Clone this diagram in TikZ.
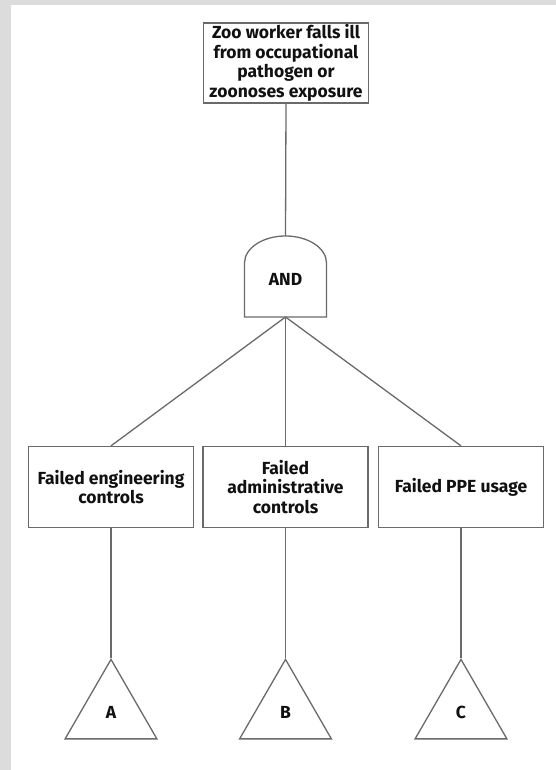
\documentclass[tikz,border=0pt]{standalone}
\usepackage{fontspec}
\setmainfont{Fira Sans}
\usetikzlibrary{shapes.geometric}
\definecolor{linegray}{HTML}{6A6A6A}
\definecolor{framegray}{HTML}{DCDCDC}
\definecolor{ink}{HTML}{111111}
\begin{document}
\begin{tikzpicture}[x=1pt,y=1pt,
  lbl/.style={font=\fontsize{17.5}{19.5}\selectfont\bfseries, text=ink},
  box/.style={lbl, draw=linegray, line width=1.3pt, fill=white,
    minimum width=165pt, minimum height=81pt, align=center, inner sep=1pt},
  tri/.style={lbl, draw=linegray, line width=1.3pt, fill=white,
    regular polygon, regular polygon sides=3, minimum size=106pt, inner sep=0pt},
  edge/.style={draw=linegray, line width=1.3pt}]
% page frame
\fill[framegray] (0,0) rectangle (556,770);
\fill[white] (11,0) rectangle (556,765);
\useasboundingbox (0,0) rectangle (556,770);

% top event
\node[box, minimum height=80pt] (top) at (286,707)
  {Zoo worker falls ill\\from occupational\\pathogen or\\zoonoses exposure};

% AND gate
\draw[edge, fill=white] (244.5,453) -- (244.5,507)
  arc[start angle=180, end angle=0, x radius=41pt, y radius=27pt]
  -- (326.5,453) -- cycle;
\coordinate (gtop) at (285.5,534);
\coordinate (gbot) at (285.5,453);
\node[lbl] (gate) at (285.5,491) {AND};

% intermediate events
\node[box] (eng) at (111,283) {Failed engineering\\controls};
\node[box] (adm) at (285.5,283) {Failed\\administrative\\controls};
\node[box] (ppe) at (461,283) {Failed PPE usage};

% transfer symbols
\node[tri] (ta) at (111,57.6) {A};
\node[tri] (tb) at (285.5,57.6) {B};
\node[tri] (tc) at (461,57.6) {C};

% connectors
\draw[edge] (top.south) -- (gtop);
\draw[edge] (gbot) -- (eng.north);
\draw[edge] (gbot) -- (adm.north);
\draw[edge] (gbot) -- (ppe.north);
\draw[edge] (eng.south) -- (ta.corner 1);
\draw[edge] (adm.south) -- (tb.corner 1);
\draw[edge] (ppe.south) -- (tc.corner 1);
\end{tikzpicture}
\end{document}
